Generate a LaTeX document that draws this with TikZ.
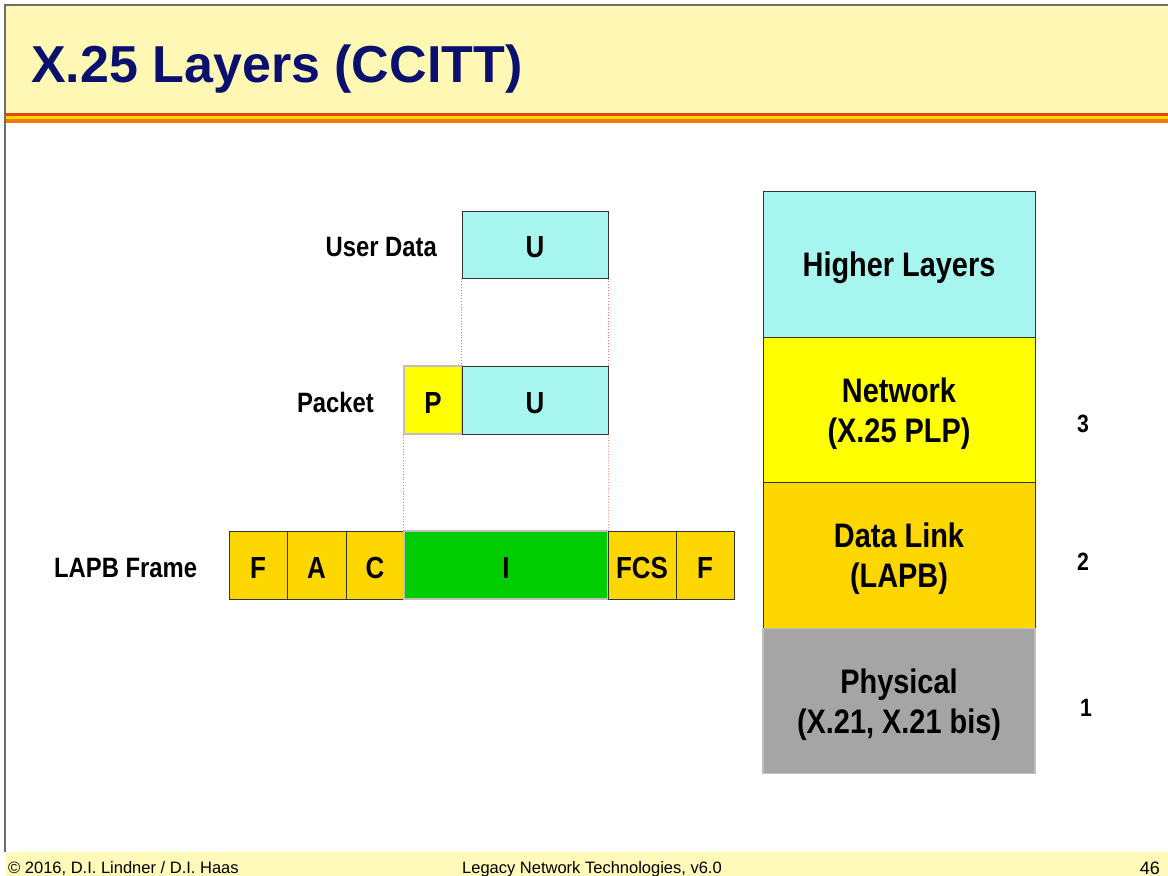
\documentclass[tikz,border=0pt]{standalone}
\usepackage{fontspec}
\setmainfont{Liberation Sans}
\newfontfamily\nar[FakeStretch=0.85]{Liberation Sans}
\definecolor{hdr}{RGB}{255,248,180}
\definecolor{ftr}{RGB}{255,250,185}
\definecolor{navy}{RGB}{10,16,110}
\definecolor{aqua}{RGB}{166,245,238}
\definecolor{yel}{RGB}{255,255,0}
\definecolor{gold}{RGB}{255,215,0}
\definecolor{grn}{RGB}{0,204,0}
\definecolor{gry}{RGB}{165,165,165}
\definecolor{frame}{RGB}{110,110,110}
\definecolor{dotred}{RGB}{240,120,100}
\definecolor{stripeA}{RGB}{230,70,10}
\definecolor{stripeB}{RGB}{255,215,0}
\definecolor{stripeC}{RGB}{245,120,10}
\tikzset{
  cell/.style={draw=black!80, line width=1pt, inner sep=0pt, text height=26pt, text depth=0pt, font=\nar\bfseries\fontsize{30.5}{32}\selectfont},
  lite/.style={draw=black!25, line width=1.2pt},
  layer/.style={draw=black!80, line width=1pt, minimum width=272, minimum height=145.5, inner sep=0pt, align=center,
     text depth=0pt, font=\nar\bfseries\fontsize{34}{40}\selectfont},
  lbl/.style={inner sep=0pt, font=\nar\bfseries\fontsize{28}{32}\selectfont},
  num/.style={inner sep=0pt, font=\nar\bfseries\fontsize{25}{28}\selectfont},
  guide/.style={draw=dotred, line width=0.8pt, dotted},
  foot/.style={inner sep=0pt, anchor=base west, font=\fontsize{16.5}{18}\selectfont}
}
\begin{document}
\begin{tikzpicture}[x=1pt,y=-1pt]
\useasboundingbox (0,0) rectangle (1168,876);
\fill[white] (0,0) rectangle (1168,876);
% header
\fill[hdr] (6,6) rectangle (1168,113);
\fill[stripeA] (6,113) rectangle (1168,115.5);
\fill[stripeB] (6,115.5) rectangle (1168,119);
\fill[stripeC] (6,119) rectangle (1168,122.5);
% footer
\fill[ftr] (6,852) rectangle (1168,876);
% frame
\draw[frame, line width=2pt] (4.5,852) -- (4.5,4.5) -- (1168,4.5);
\node[anchor=base west, inner sep=0pt, text=navy, font=\bfseries\fontsize{52}{56}\selectfont] (title) at (31,82) {X.25 Layers (CCITT)};

% user data row
\node[cell, fill=aqua, minimum width=146, minimum height=67] (u1) at (535,244.5) {U};
\node[lbl, anchor=east] (lud) at (437,247) {User Data};
% packet row
\node[cell, lite, fill=yel, minimum width=58, minimum height=68] (p2) at (433,400) {P};
\node[cell, fill=aqua, minimum width=146, minimum height=68] (u2) at (535,400) {U};
\node[lbl, anchor=east] (lpk) at (374,402) {Packet};
% frame row
\node[cell, fill=gold, minimum width=58, minimum height=68] (ff) at (258,565) {F};
\node[cell, fill=gold, minimum width=59, minimum height=68] (fa) at (316.5,565) {A};
\node[cell, fill=gold, minimum width=58, minimum height=68] (fc) at (375,565) {C};
\node[cell, lite, fill=grn, minimum width=204, minimum height=68] (fi) at (506,565) {I};
\node[cell, fill=gold, minimum width=68, minimum height=68] (fcs) at (642,565) {FCS};
\node[cell, fill=gold, minimum width=58, minimum height=68] (fl) at (705,565) {F};
\node[lbl, anchor=west] (llapb) at (54,568) {LAPB Frame};

% guides
\draw[guide] (u1.south west) -- (u2.north west);
\draw[guide] (u1.south east) -- (u2.north east);
\draw[guide] (p2.south west) -- (fi.north west);
\draw[guide] (u2.south east) -- (fi.north east);

% layer stack
\node[layer, fill=aqua] (hl) at (899,264.5) {Higher Layers};
\node[layer, fill=yel] (nw) at (899,410) {Network\\(X.25 PLP)};
\node[layer, fill=gold] (dl) at (899,555.5) {Data Link\\(LAPB)};
\node[layer, lite, fill=gry] (ph) at (899,701) {Physical\\(X.21, X.21 bis)};

\node[num] (n3) at (1083,424) {3};
\node[num] (n2) at (1083,562) {2};
\node[num] (n1) at (1086,708) {1};

% footer text
\node[foot] (fl1) at (8,873) {\textcopyright{} 2016, D.I. Lindner / D.I. Haas};
\node[foot] (fl2) at (462,873) {Legacy Network Technologies, v6.0};
\node[inner sep=0pt, anchor=base east, font=\fontsize{18}{20}\selectfont] (pg) at (1160,874) {46};
\end{tikzpicture}
\end{document}
